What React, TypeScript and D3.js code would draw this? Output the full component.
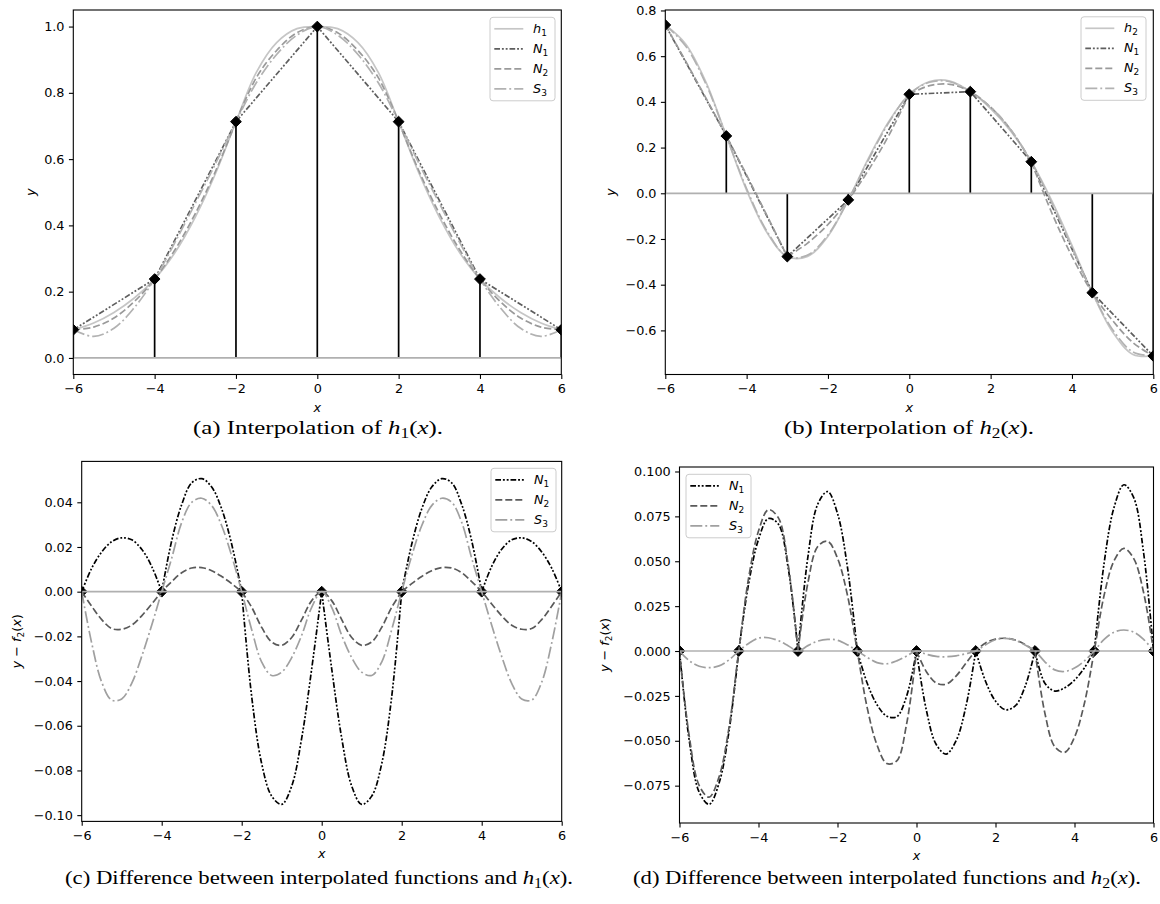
import React, { useEffect, useRef } from "react";
import * as d3 from "d3";

// sample positions along x
const xCoarse = [-6, -5.5, -5, -4.5, -4, -3.5, -3, -2.5, -2, -1.5, -1, -0.5, 0, 0.5, 1, 1.5, 2, 2.5, 3, 3.5, 4, 4.5, 5, 5.5, 6];
const xFine = [
  -6, -5.75, -5.5, -5.25, -5, -4.75, -4.5, -4.25, -4, -3.75, -3.5, -3.25, -3, -2.75, -2.5, -2.25, -2, -1.75, -1.5, -1.25, -1,
  -0.75, -0.5, -0.25, 0, 0.25, 0.5, 0.75, 1, 1.25, 1.5, 1.75, 2, 2.25, 2.5, 2.75, 3, 3.25, 3.5, 3.75, 4, 4.25, 4.5, 4.75, 5,
  5.25, 5.5, 5.75, 6,
];

// (a) interpolation of h1
const nodesA = [-6, -4, -2, 0, 2, 4, 6];
const nodeValsA = [0.085, 0.238, 0.713, 1.0, 0.713, 0.238, 0.085];
const elementsA = [-6, -2, 2, 6];
const h1 = [0.085, 0.1055, 0.1374, 0.1808, 0.238, 0.3178, 0.4249, 0.5573, 0.713, 0.8618, 0.9517, 0.9938, 1.0, 0.9938, 0.9517, 0.8618, 0.713, 0.5573, 0.4249, 0.3178, 0.238, 0.1808, 0.1374, 0.1055, 0.085];
const n2A = [0.085, 0.093, 0.1206, 0.17, 0.238, 0.3263, 0.4357, 0.5641, 0.713, 0.8458, 0.9277, 0.9813, 1.0, 0.9813, 0.9277, 0.8458, 0.713, 0.5641, 0.4357, 0.3263, 0.238, 0.17, 0.1206, 0.093, 0.085];
const s3A = [0.085, 0.065, 0.0894, 0.1518, 0.238, 0.3488, 0.4667, 0.5868, 0.713, 0.8303, 0.9157, 0.9743, 1.0, 0.9743, 0.9157, 0.8303, 0.713, 0.5868, 0.4667, 0.3488, 0.238, 0.1518, 0.0894, 0.065, 0.085];

// (b) interpolation of h2
const nodesB = [-6, -4.5, -3, -1.5, 0, 1.5, 3, 4.5, 6];
const nodeValsB = [0.7365, 0.2508, -0.277, -0.029, 0.433, 0.4447, 0.138, -0.435, -0.712];
const elementsB = [-6, -3, 0, 3, 6];
const h2 = [0.7365, 0.6533, 0.4864, 0.2508, 0.0128, -0.1719, -0.277, -0.2761, -0.1883, -0.029, 0.1549, 0.3156, 0.433, 0.489, 0.4909, 0.4447, 0.3704, 0.2708, 0.138, -0.0307, -0.2278, -0.435, -0.6072, -0.7051, -0.712];
const n2B = [0.7365, 0.5783, 0.4162, 0.2508, 0.0796, -0.0976, -0.277, -0.2179, -0.1366, -0.029, 0.1026, 0.2544, 0.433, 0.4712, 0.4769, 0.4447, 0.377, 0.2769, 0.138, -0.084, -0.2758, -0.435, -0.557, -0.6536, -0.712];
const s3B = [0.7365, 0.6448, 0.4781, 0.2508, 0.02, -0.1661, -0.277, -0.2706, -0.1823, -0.029, 0.1484, 0.3101, 0.433, 0.486, 0.4882, 0.4447, 0.3767, 0.2768, 0.138, -0.0412, -0.2373, -0.435, -0.5967, -0.6946, -0.712];

// (c) differences against h1
const errN1A = [
  0, 0.0105, 0.0178, 0.0224, 0.0241, 0.0232, 0.019, 0.0113, 0, 0.0228, 0.039, 0.0487, 0.0506, 0.0468, 0.037, 0.0212, 0, -0.047,
  -0.077, -0.0915, -0.0952, -0.087, -0.0655, -0.0345, 0, -0.0345, -0.0655, -0.087, -0.0952, -0.0915, -0.077, -0.047, 0, 0.0212,
  0.037, 0.0468, 0.0506, 0.0487, 0.039, 0.0228, 0, 0.0113, 0.019, 0.0232, 0.0241, 0.0224, 0.0178, 0.0105, 0,
];
const errN2A = [
  0, -0.0065, -0.0125, -0.0165, -0.0168, -0.015, -0.0108, -0.0055, 0, 0.0045, 0.0085, 0.0106, 0.0108, 0.0094, 0.0068, 0.0036, 0,
  -0.007, -0.016, -0.0225, -0.024, -0.0205, -0.0125, -0.004, 0, -0.004, -0.0125, -0.0205, -0.024, -0.0225, -0.016, -0.007, 0,
  0.0036, 0.0068, 0.0094, 0.0108, 0.0106, 0.0085, 0.0045, 0, -0.0055, -0.0108, -0.015, -0.0168, -0.0165, -0.0125, -0.0065, 0,
];
const errS3A = [
  0, -0.023, -0.0405, -0.0485, -0.048, -0.041, -0.029, -0.015, 0, 0.015, 0.031, 0.04, 0.0418, 0.0385, 0.0295, 0.016, 0, -0.017,
  -0.0315, -0.0375, -0.036, -0.0295, -0.0195, -0.007, 0, -0.007, -0.0195, -0.0295, -0.036, -0.0375, -0.0315, -0.017, 0, 0.016,
  0.0295, 0.0385, 0.0418, 0.04, 0.031, 0.015, 0, -0.015, -0.029, -0.041, -0.048, -0.0485, -0.0405, -0.023, 0,
];

// (d) differences against h2
const errN1B = [
  0, -0.0503, -0.0787, -0.0854, -0.0737, -0.0452, 0, 0.0375, 0.0621, 0.0738, 0.0708, 0.0465, 0, 0.0523, 0.0818, 0.0888, 0.0766,
  0.047, 0, -0.0178, -0.0299, -0.0363, -0.0366, -0.0251, 0, -0.033, -0.0521, -0.0574, -0.0501, -0.031, 0, -0.017, -0.0279,
  -0.0327, -0.0306, -0.0197, 0, -0.0179, -0.0223, -0.0205, -0.0162, -0.0094, 0, 0.049, 0.0799, 0.0926, 0.0854, 0.0546, 0,
];
const errN2B = [
  0, -0.048, -0.075, -0.0814, -0.0702, -0.0431, 0, 0.0407, 0.0668, 0.0787, 0.0743, 0.0482, 0, 0.0379, 0.0582, 0.0611, 0.0517,
  0.0313, 0, -0.0314, -0.0523, -0.0627, -0.0612, -0.0406, 0, -0.0115, -0.0178, -0.0185, -0.014, -0.0068, 0, 0.0045, 0.0066,
  0.0071, 0.0061, 0.0036, 0, -0.0346, -0.0533, -0.0565, -0.048, -0.0292, 0, 0.0311, 0.0502, 0.0572, 0.0515, 0.0325, 0,
];
const errS3B = [
  0, -0.0055, -0.0085, -0.0093, -0.0083, -0.005, 0, 0.0042, 0.0072, 0.0074, 0.0058, 0.003, 0, 0.003, 0.0055, 0.0065, 0.006,
  0.0035, 0, -0.0035, -0.0065, -0.0071, -0.0055, -0.0028, 0, -0.0018, -0.003, -0.0032, -0.0027, -0.0015, 0, 0.0035, 0.0063,
  0.007, 0.006, 0.0033, 0, -0.006, -0.0105, -0.0114, -0.0095, -0.0055, 0, 0.0065, 0.0105, 0.0117, 0.0105, 0.0065, 0,
];

// ticks
const xTicks = [-6, -4, -2, 0, 2, 4, 6];
const yTicksA = [0, 0.2, 0.4, 0.6, 0.8, 1.0];
const yTicksB = [-0.6, -0.4, -0.2, 0, 0.2, 0.4, 0.6, 0.8];
const yTicksC = [-0.1, -0.08, -0.06, -0.04, -0.02, 0, 0.02, 0.04];
const yTicksD = [-0.075, -0.05, -0.025, 0, 0.025, 0.05, 0.075, 0.1];

const W = 1160;
const H = 904;
const FONT = "DejaVu Sans, sans-serif";
const SERIF = "Liberation Serif, serif";
const TICK_FS = 12.8;
const CAP_FS = 19.5;

const DASH_N1 = "5.7,1.9,1.9,1.9,1.9,1.9";
const DASH_N2 = "7,3";
const DASH_S3 = "12,3,1.9,3";

type Part = { t: string; it?: boolean; sub?: boolean };
type Series = {
  label: Part[];
  xs: number[];
  ys: number[];
  color: string;
  dash: string | null;
  breaks: number[] | null;
  linear?: boolean;
};
type Panel = {
  left: number;
  right: number;
  top: number;
  bottom: number;
  yDomain: [number, number];
  yTicks: number[];
  yFormat: string;
  yLabel: Part[];
  yLabelX: number;
  series: Series[];
  nodes: number[];
  nodeVals: number[] | null;
  legendX: number;
  legendY: number;
  caption: Part[];
  captionX: number;
  captionY: number;
  captionW: number;
};

const lab = (n: string, s: string): Part[] => [{ t: n, it: true }, { t: s, sub: true }];
const yPlain: Part[] = [{ t: "y", it: true }];
const yDiff: Part[] = [{ t: "y", it: true }, { t: " − " }, { t: "f", it: true }, { t: "2", sub: true }, { t: "(" }, { t: "x", it: true }, { t: ")" }];

const panels: Panel[] = [
  {
    left: 73.3, right: 561.3, top: 10, bottom: 374.5,
    yDomain: [-0.05, 1.05], yTicks: yTicksA, yFormat: ".1f",
    yLabel: yPlain, yLabelX: 31,
    series: [
      { label: lab("h", "1"), xs: xCoarse, ys: h1, color: "#c6c6c6", dash: null, breaks: null },
      { label: lab("N", "1"), xs: nodesA, ys: nodeValsA, color: "#5e5e5e", dash: DASH_N1, breaks: null, linear: true },
      { label: lab("N", "2"), xs: xCoarse, ys: n2A, color: "#9a9a9a", dash: DASH_N2, breaks: elementsA },
      { label: lab("S", "3"), xs: xCoarse, ys: s3A, color: "#b2b2b2", dash: DASH_S3, breaks: null },
    ],
    nodes: nodesA, nodeVals: nodeValsA,
    legendX: 490, legendY: 17.3,
    caption: [{ t: "(a) Interpolation of " }, { t: "h", it: true }, { t: "1", sub: true }, { t: "(" }, { t: "x", it: true }, { t: ")." }],
    captionX: 318, captionY: 434, captionW: 250,
  },
  {
    left: 665.3, right: 1153.3, top: 10, bottom: 374.5,
    yDomain: [-0.793, 0.802], yTicks: yTicksB, yFormat: ".1f",
    yLabel: yPlain, yLabelX: 611,
    series: [
      { label: lab("h", "2"), xs: xCoarse, ys: h2, color: "#c6c6c6", dash: null, breaks: null },
      { label: lab("N", "1"), xs: nodesB, ys: nodeValsB, color: "#5e5e5e", dash: DASH_N1, breaks: null, linear: true },
      { label: lab("N", "2"), xs: xCoarse, ys: n2B, color: "#9a9a9a", dash: DASH_N2, breaks: elementsB },
      { label: lab("S", "3"), xs: xCoarse, ys: s3B, color: "#b2b2b2", dash: DASH_S3, breaks: null },
    ],
    nodes: nodesB, nodeVals: nodeValsB,
    legendX: 1081, legendY: 16.8,
    caption: [{ t: "(b) Interpolation of " }, { t: "h", it: true }, { t: "2", sub: true }, { t: "(" }, { t: "x", it: true }, { t: ")." }],
    captionX: 909, captionY: 434, captionW: 250,
  },
  {
    left: 81.7, right: 561.7, top: 461.4, bottom: 821.4,
    yDomain: [-0.1028, 0.0583], yTicks: yTicksC, yFormat: ".2f",
    yLabel: yDiff, yLabelX: 17,
    series: [
      { label: lab("N", "1"), xs: xFine, ys: errN1A, color: "#000000", dash: DASH_N1, breaks: nodesA },
      { label: lab("N", "2"), xs: xFine, ys: errN2A, color: "#5a5a5a", dash: DASH_N2, breaks: elementsA },
      { label: lab("S", "3"), xs: xFine, ys: errS3A, color: "#a0a0a0", dash: DASH_S3, breaks: null },
    ],
    nodes: nodesA, nodeVals: null,
    legendX: 491, legendY: 468.3,
    caption: [{ t: "(c) Difference between interpolated functions and " }, { t: "h", it: true }, { t: "1", sub: true }, { t: "(" }, { t: "x", it: true }, { t: ")." }],
    captionX: 319, captionY: 884, captionW: 508,
  },
  {
    left: 679.5, right: 1153.5, top: 467, bottom: 823,
    yDomain: [-0.0958, 0.1025], yTicks: yTicksD, yFormat: ".3f",
    yLabel: yDiff, yLabelX: 605,
    series: [
      { label: lab("N", "1"), xs: xFine, ys: errN1B, color: "#000000", dash: DASH_N1, breaks: nodesB },
      { label: lab("N", "2"), xs: xFine, ys: errN2B, color: "#5a5a5a", dash: DASH_N2, breaks: elementsB },
      { label: lab("S", "3"), xs: xFine, ys: errS3B, color: "#a0a0a0", dash: DASH_S3, breaks: null },
    ],
    nodes: nodesB, nodeVals: null,
    legendX: 686, legendY: 474.3,
    caption: [{ t: "(d) Difference between interpolated functions and " }, { t: "h", it: true }, { t: "2", sub: true }, { t: "(" }, { t: "x", it: true }, { t: ")." }],
    captionX: 887, captionY: 884, captionW: 508,
  },
];

// writes a small piece of math-like text as tspans
function writeParts(text: any, parts: Part[], fs: number) {
  let shifted = false;
  parts.forEach((p) => {
    const ts = text.append("tspan").text(p.t);
    if (p.it) ts.attr("font-style", "italic");
    if (p.sub) {
      ts.attr("font-size", fs * 0.7).attr("dy", fs * 0.22);
      shifted = true;
    } else if (shifted) {
      ts.attr("dy", -fs * 0.22);
      shifted = false;
    }
  });
}

function drawPanel(svg: any, p: Panel, idx: number) {
  const x = d3.scaleLinear().domain([-6, 6]).range([p.left, p.right]);
  const y = d3.scaleLinear().domain(p.yDomain).range([p.bottom, p.top]);

  const clipId = `clip-${idx}`;
  svg
    .append("clipPath")
    .attr("id", clipId)
    .append("rect")
    .attr("x", p.left)
    .attr("y", p.top)
    .attr("width", p.right - p.left)
    .attr("height", p.bottom - p.top);

  const plot = svg.append("g").attr("clip-path", `url(#${clipId})`);

  // stems for the interpolation panels
  if (p.nodeVals) {
    const vals = p.nodeVals;
    plot
      .selectAll(".stem")
      .data(p.nodes)
      .join("line")
      .attr("x1", (d: number) => x(d))
      .attr("x2", (d: number) => x(d))
      .attr("y1", y(0))
      .attr("y2", (_d: number, k: number) => y(vals[k]))
      .attr("stroke", "#000")
      .attr("stroke-width", 1.7);
  }

  const diamond = (r: number) => `M0,${-r}L${r},0L0,${r}L${-r},0Z`;
  const drawMarkers = () => {
    plot
      .selectAll(".mk")
      .data(p.nodes)
      .join("path")
      .attr("d", diamond(5.4))
      .attr("transform", (d: number, k: number) => `translate(${x(d)},${y(p.nodeVals ? p.nodeVals[k] : 0)})`)
      .attr("fill", "#000")
      .attr("stroke", "#000")
      .attr("stroke-width", 1);
  };

  const zeroLine = () =>
    plot
      .append("line")
      .attr("x1", x(-6))
      .attr("x2", x(6))
      .attr("y1", y(0))
      .attr("y2", y(0))
      .attr("stroke", "#b0b0b0")
      .attr("stroke-width", 1.7);

  if (p.nodeVals) zeroLine();
  else drawMarkers();

  const curve = d3
    .line<[number, number]>()
    .x((d) => x(d[0]))
    .y((d) => y(d[1]))
    .curve(d3.curveCatmullRom.alpha(0.5));
  const straight = d3
    .line<[number, number]>()
    .x((d) => x(d[0]))
    .y((d) => y(d[1]));

  p.series.forEach((s) => {
    const pts: [number, number][] = s.xs.map((v, i) => [v, s.ys[i]]);
    let dPath = "";
    if (s.linear) dPath = straight(pts) || "";
    else if (!s.breaks) dPath = curve(pts) || "";
    else {
      // kinks at element ends: one smooth piece per element
      const b = s.breaks;
      for (let k = 0; k < b.length - 1; k++) {
        const seg = pts.filter((q) => q[0] >= b[k] - 1e-9 && q[0] <= b[k + 1] + 1e-9);
        dPath += curve(seg) || "";
      }
    }
    plot
      .append("path")
      .attr("d", dPath)
      .attr("fill", "none")
      .attr("stroke", s.color)
      .attr("stroke-width", 1.7)
      .attr("stroke-dasharray", s.dash)
      .attr("stroke-linejoin", "round");
  });

  if (p.nodeVals) drawMarkers();
  else zeroLine();

  // frame
  svg
    .append("rect")
    .attr("x", p.left)
    .attr("y", p.top)
    .attr("width", p.right - p.left)
    .attr("height", p.bottom - p.top)
    .attr("fill", "none")
    .attr("stroke", "#000")
    .attr("stroke-width", 1.1);

  // axes
  const styleAxis = (g: any) => {
    g.select(".domain").remove();
    g.attr("font-size", TICK_FS).attr("font-family", FONT);
    g.selectAll("text").attr("fill", "#000");
    g.selectAll("line").attr("stroke", "#000").attr("stroke-width", 1.1);
  };
  svg
    .append("g")
    .attr("transform", `translate(0,${p.bottom})`)
    .call(d3.axisBottom(x).tickValues(xTicks).tickFormat(d3.format("d") as any).tickSize(4.4).tickPadding(5.5))
    .call(styleAxis);
  svg
    .append("g")
    .attr("transform", `translate(${p.left},0)`)
    .call(d3.axisLeft(y).tickValues(p.yTicks).tickFormat(d3.format(p.yFormat) as any).tickSize(4.4).tickPadding(4.4))
    .call(styleAxis);

  // axis labels
  svg
    .append("text")
    .attr("x", (p.left + p.right) / 2)
    .attr("y", p.bottom + 37)
    .attr("text-anchor", "middle")
    .attr("font-family", FONT)
    .attr("font-size", TICK_FS)
    .attr("font-style", "italic")
    .text("x");
  const yl = svg
    .append("text")
    .attr("transform", `translate(${p.yLabelX},${(p.top + p.bottom) / 2}) rotate(-90)`)
    .attr("text-anchor", "middle")
    .attr("dy", "0.3em")
    .attr("font-family", FONT)
    .attr("font-size", TICK_FS);
  writeParts(yl, p.yLabel, TICK_FS);

  // legend
  const rowH = 20;
  const lg = svg.append("g").attr("transform", `translate(${p.legendX},${p.legendY})`);
  lg.append("rect")
    .attr("width", 65)
    .attr("height", p.series.length * rowH + 3.5)
    .attr("rx", 3)
    .attr("fill", "#fff")
    .attr("fill-opacity", 0.8)
    .attr("stroke", "#cccccc")
    .attr("stroke-width", 1);
  p.series.forEach((s, i) => {
    const cy = 11.5 + i * rowH;
    lg.append("line")
      .attr("x1", 4.3)
      .attr("x2", 33.3)
      .attr("y1", cy)
      .attr("y2", cy)
      .attr("stroke", s.color)
      .attr("stroke-width", 1.7)
      .attr("stroke-dasharray", s.dash);
    const t = lg
      .append("text")
      .attr("x", 43)
      .attr("y", cy + 4)
      .attr("font-family", FONT)
      .attr("font-size", TICK_FS);
    writeParts(t, s.label, TICK_FS);
  });

  // caption (Palatino-like width from a condensed serif)
  const cap = svg
    .append("text")
    .attr("x", p.captionX)
    .attr("y", p.captionY)
    .attr("text-anchor", "middle")
    .attr("font-family", SERIF)
    .attr("font-size", CAP_FS)
    .attr("textLength", p.captionW)
    .attr("lengthAdjust", "spacingAndGlyphs");
  writeParts(cap, p.caption, CAP_FS);
}

function drawChart(node: SVGSVGElement) {
  const svg = d3.select(node);
  svg.selectAll("*").remove();
  svg.append("rect").attr("width", W).attr("height", H).attr("fill", "#fff");
  panels.forEach((p, i) => drawPanel(svg, p, i));
}

const App = () => {
  const ref = useRef<SVGSVGElement | null>(null);

  useEffect(() => {
    document.body.style.margin = "0";
    if (ref.current) drawChart(ref.current);
  }, []);

  return <svg ref={ref} width={W} height={H} style={{ display: "block" }} />;
};

export default App;
